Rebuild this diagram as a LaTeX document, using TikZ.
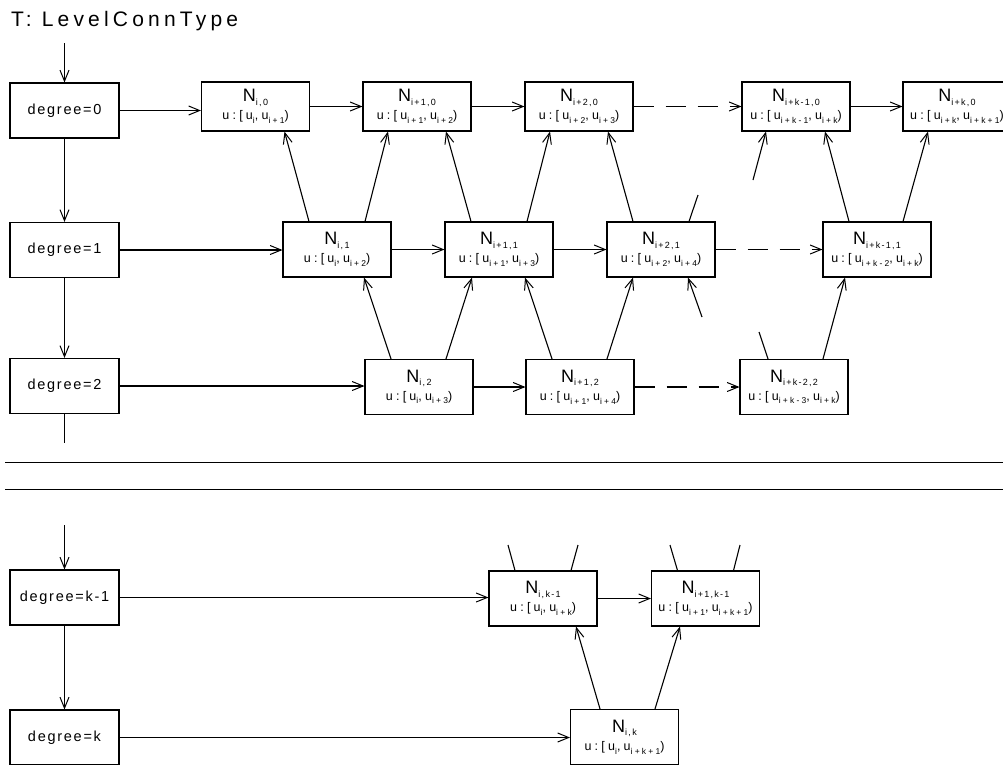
\documentclass[tikz,border=0pt]{standalone}
\usepackage{fontspec}
\setmainfont{Liberation Sans}
\usetikzlibrary{arrows.meta}
\newcommand\Nsub[1]{\raisebox{-0.55ex}{\fontsize{9}{10}\selectfont\addfontfeature{LetterSpace=14}#1}}
\newcommand\NN[1]{{\fontsize{18}{20}\selectfont N}\Nsub{#1}}
\newcommand\usb[1]{\raisebox{-0.55ex}{\fontsize{8.5}{9}\selectfont #1}}
\newcommand\UU[2]{{\fontsize{12.5}{13}\selectfont\addfontfeature{LetterSpace=26}u:[u\usb{#1},u\usb{#2})}}
\tikzset{
  base/.style={line width=1.1pt},
  arr/.style={base,-{Straight Barb[length=11pt,width=9pt,line width=1pt]}},
  dsh/.style={arr,dash pattern=on 20pt off 12pt},
  degbox/.style={draw,line width=1.1pt,minimum width=109pt,minimum height=55pt,inner sep=0pt,
    font=\fontsize{14.5}{16}\selectfont\addfontfeature{LetterSpace=12}},
  nbox/.style={draw,line width=1.1pt,minimum width=108pt,minimum height=55pt,inner sep=0pt,
    align=center,font=\fontsize{12}{18}\selectfont},
  nbox0/.style={nbox,minimum height=49pt}
}
\begin{document}
\begin{tikzpicture}[x=1pt,y=-1pt]
\clip (0,0) rectangle (1003,764);
\node[anchor=base west,inner sep=0pt,font=\fontsize{21}{24}\selectfont\addfontfeature{LetterSpace=20}] (title) at (11,26) {T: LevelConnType};
% degree column
\node[degbox] (deg0) at (64.5,110.5) {degree=0};
\node[degbox] (deg1) at (64.5,250) {degree=1};
\node[degbox] (deg2) at (64.5,386) {degree=2};
\node[degbox] (degk1) at (64.5,597.5) {degree=k-1};
\node[degbox] (degk) at (64.5,737.5) {degree=k};
\coordinate (c0) at (64.5,43);
\coordinate (c1) at (64.5,443);
\coordinate (c2) at (64.5,525);
\draw[arr] (c0) -- (deg0);
\draw[arr] (deg0) -- (deg1);
\draw[arr] (deg1) -- (deg2);
\draw[base] (deg2) -- (c1);
\draw[arr] (c2) -- (degk1);
\draw[arr] (degk1) -- (degk);
% separators
\coordinate (l1a) at (5,462); \coordinate (l1b) at (1003,462);
\coordinate (l2a) at (5,489); \coordinate (l2b) at (1003,489);
\draw[line width=1pt] (l1a) -- (l1b);
\draw[line width=1pt] (l2a) -- (l2b);
% row 0
\node[nbox0] (ni0)  at (255.5,106.5) {\NN{i,0}\\\UU{i}{i+1}};
\node[nbox0] (ni10) at (417,106.5) {\NN{i+1,0}\\\UU{i+1}{i+2}};
\node[nbox0] (ni20) at (579,106.5) {\NN{i+2,0}\\\UU{i+2}{i+3}};
\node[nbox0] (nk10) at (796,106.5) {\NN{i+k-1,0}\\\UU{i+k-1}{i+k}};
\node[nbox0] (nk0)  at (957,106.5) {\NN{i+k,0}\\\UU{i+k}{i+k+1}};
% row 1
\node[nbox] (ni1)  at (337,249.5) {\NN{i,1}\\\UU{i}{i+2}};
\node[nbox] (ni11) at (499,249.5) {\NN{i+1,1}\\\UU{i+1}{i+3}};
\node[nbox] (ni21) at (661,249.5) {\NN{i+2,1}\\\UU{i+2}{i+4}};
\node[nbox] (nk11) at (877,249.5) {\NN{i+k-1,1}\\\UU{i+k-2}{i+k}};
% row 2
\node[nbox] (ni2)  at (419,387) {\NN{i,2}\\\UU{i}{i+3}};
\node[nbox] (ni12) at (580,387) {\NN{i+1,2}\\\UU{i+1}{i+4}};
\node[nbox] (nk22) at (794,387) {\NN{i+k-2,2}\\\UU{i+k-3}{i+k}};
% row k-1
\node[nbox] (nik1)  at (543,598.5) {\NN{i,k-1}\\\UU{i}{i+k}};
\node[nbox] (ni1k1) at (705.5,598.5) {\NN{i+1,k-1}\\\UU{i+1}{i+k+1}};
% row k
\node[nbox] (nik) at (624.5,737) {\NN{i,k}\\\UU{i}{i+k+1}};
% degree -> first node
\draw[arr] (deg0.east) -- (deg0.east -| ni0.west);
\draw[arr] (deg1.east) -- (deg1.east -| ni1.west);
\draw[arr] (deg2.east) -- (deg2.east -| ni2.west);
\draw[arr] (degk1.east) -- (degk1.east -| nik1.west);
\draw[arr] (degk.east) -- (degk.east -| nik.west);
% horizontal chains
\draw[arr] (ni0) -- (ni10);
\draw[arr] (ni10) -- (ni20);
\draw[dsh] (ni20) -- (nk10);
\draw[arr] (nk10) -- (nk0);
\draw[arr] (ni1) -- (ni11);
\draw[arr] (ni11) -- (ni21);
\draw[dsh] (ni21) -- (nk11);
\draw[arr] (ni2) -- (ni12);
\draw[dsh] (ni12) -- (nk22);
\draw[arr] (nik1) -- (ni1k1);
% row1 -> row0
\draw[arr] ([xshift=-28]ni1.north) -- ([xshift=29]ni0.south);
\draw[arr] ([xshift=28]ni1.north) -- ([xshift=-29]ni10.south);
\draw[arr] ([xshift=-28]ni11.north) -- ([xshift=29]ni10.south);
\draw[arr] ([xshift=28]ni11.north) -- ([xshift=-29]ni20.south);
\draw[arr] ([xshift=-28]ni21.north) -- ([xshift=29]ni20.south);
\coordinate (s1) at (698,195);
\draw[base] ([xshift=28]ni21.north) -- (s1);
\draw[arr] ([xshift=-28]nk11.north) -- ([xshift=29]nk10.south);
\draw[arr] ([xshift=26]nk11.north) -- ([xshift=-29]nk0.south);
\coordinate (s2) at (753,180);
\draw[arr] (s2) -- ([xshift=-30]nk10.south);
% row2 -> row1
\draw[arr] ([xshift=-28]ni2.north) -- ([xshift=27]ni1.south);
\draw[arr] ([xshift=27]ni2.north) -- ([xshift=-27]ni11.south);
\draw[arr] ([xshift=-28]ni12.north) -- ([xshift=26]ni11.south);
\draw[arr] ([xshift=27]ni12.north) -- ([xshift=-28]ni21.south);
\coordinate (s3) at (702,317);
\draw[arr] (s3) -- ([xshift=27]ni21.south);
\coordinate (s4) at (759,332);
\draw[base] ([xshift=-26]nk22.north) -- (s4);
\draw[arr] ([xshift=29]nk22.north) -- ([xshift=-32]nk11.south);
% row k -> row k-1
\draw[arr] ([xshift=-24.5]nik.north) -- ([xshift=33]nik1.south);
\draw[arr] ([xshift=30.5]nik.north) -- ([xshift=-25.5]ni1k1.south);
\coordinate (s5) at (508,545);
\coordinate (s6) at (578,545);
\coordinate (s7) at (670,545);
\coordinate (s8) at (740,545);
\draw[base] ([xshift=-28]nik1.north) -- (s5);
\draw[base] ([xshift=28]nik1.north) -- (s6);
\draw[base] ([xshift=-28]ni1k1.north) -- (s7);
\draw[base] ([xshift=28]ni1k1.north) -- (s8);
\end{tikzpicture}
\end{document}
